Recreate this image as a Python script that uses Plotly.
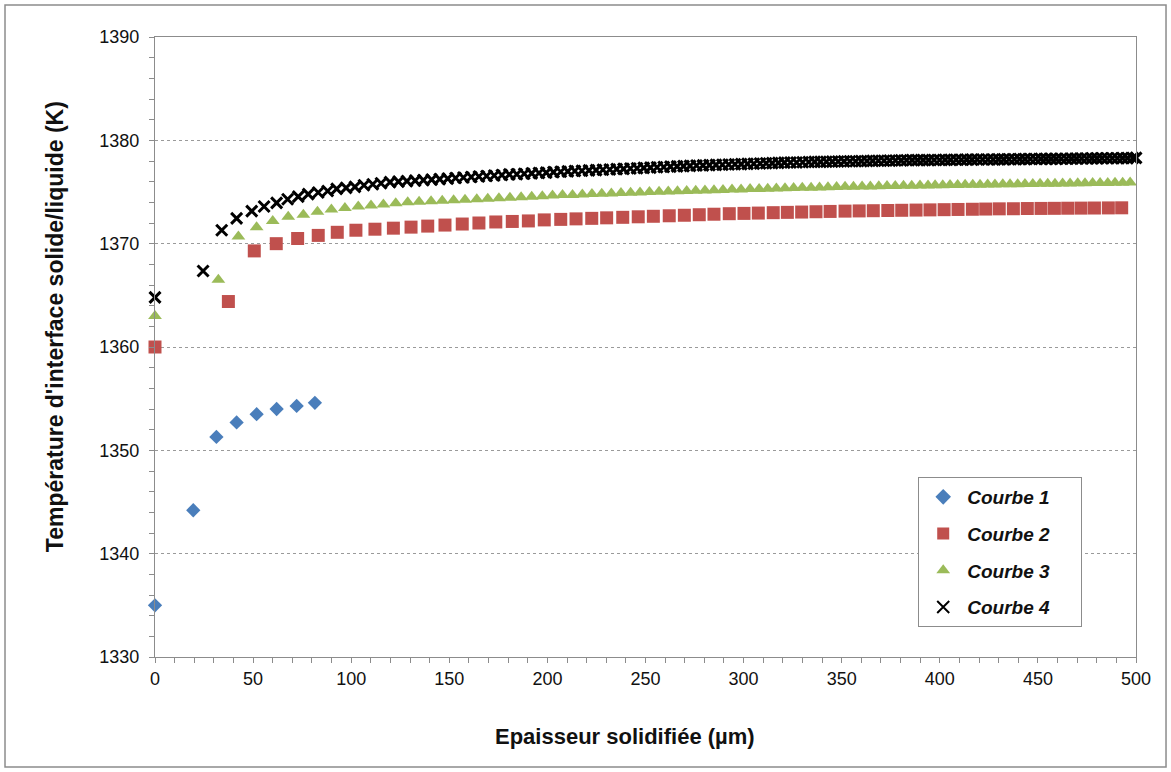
import plotly.graph_objects as go

# ---- data ----
c1_x = [0, 19.5, 31.3, 41.6, 51.8, 62.0, 72.2, 81.5]
c1_y = [1335.0, 1344.2, 1351.3, 1352.7, 1353.5, 1354.0, 1354.3, 1354.6]

c2_x = [0, 37.4, 50.6, 61.8, 72.7, 83.2, 92.9, 102.4, 112.1, 121.5,
        130.5, 139.0, 147.8, 156.6, 165.1, 173.7, 182.1, 190.3, 198.4, 206.8,
        214.6, 222.6, 230.2, 238.4, 246.3, 254.0, 262.1, 269.8, 277.4, 284.9,
        292.7, 300.2, 307.5, 315.1, 322.3, 329.6, 336.9, 344.1, 351.7, 358.9,
        366.1, 373.5, 380.6, 387.9, 395.0, 402.2, 409.3, 416.6, 423.4, 430.3,
        437.5, 444.6, 451.6, 458.4, 465.2, 472.0, 478.8, 485.9, 492.7]
c2_y = [1360.0, 1364.4, 1369.3, 1370.0, 1370.5, 1370.8, 1371.1, 1371.3, 1371.4, 1371.5,
        1371.6, 1371.7, 1371.8, 1371.9, 1372.0, 1372.1, 1372.15, 1372.2, 1372.3, 1372.35,
        1372.4, 1372.45, 1372.5, 1372.55, 1372.6, 1372.65, 1372.7, 1372.75, 1372.8, 1372.85,
        1372.9, 1372.93, 1372.96, 1373.0, 1373.03, 1373.06, 1373.09, 1373.12, 1373.15, 1373.17,
        1373.19, 1373.21, 1373.23, 1373.25, 1373.27, 1373.29, 1373.31, 1373.33, 1373.35, 1373.37,
        1373.38, 1373.4, 1373.41, 1373.42, 1373.43, 1373.44, 1373.45, 1373.46, 1373.47]

c3_x = [0, 32.3, 42.5, 51.8, 60.0, 67.9, 75.6, 82.8, 89.9, 96.8,
        103.6, 110.1, 116.4, 122.7, 128.8, 134.6, 140.7, 146.4, 152.2, 158.0,
        164.0, 169.6, 175.3, 180.9, 186.6, 192.0, 197.4, 202.6, 207.7, 212.8,
        217.8, 222.7, 227.7, 232.6, 237.5, 242.4, 247.2, 252.0, 256.9, 261.6,
        266.3, 271.0, 275.6, 280.3, 284.9, 289.5, 294.1, 298.7, 303.3, 307.9,
        312.3, 316.7, 321.1, 325.5, 329.9, 334.4, 338.7, 343.0, 347.4, 351.7,
        356.0, 360.4, 364.6, 368.9, 373.1, 377.3, 381.5, 385.7, 389.9, 394.0,
        397.6, 401.5, 405.2, 409.1, 412.9, 416.8, 420.5, 424.4, 428.1, 432.1,
        435.8, 439.7, 443.4, 447.4, 451.1, 455.0, 458.7, 462.6, 466.4, 470.3,
        474.0, 477.9, 481.7, 485.6, 489.3, 493.2, 497.0]
c3_y = [1363.0, 1366.5, 1370.7, 1371.6, 1372.2, 1372.6, 1372.8, 1373.1, 1373.3, 1373.45,
        1373.6, 1373.7, 1373.8, 1373.9, 1374.0, 1374.05, 1374.1, 1374.15, 1374.2, 1374.25,
        1374.3, 1374.35, 1374.4, 1374.45, 1374.5, 1374.55, 1374.6, 1374.65, 1374.7, 1374.72,
        1374.76, 1374.8, 1374.83, 1374.86, 1374.9, 1374.93, 1374.96, 1375.0, 1375.02, 1375.05,
        1375.08, 1375.1, 1375.13, 1375.15, 1375.18, 1375.2, 1375.23, 1375.25, 1375.28, 1375.3,
        1375.32, 1375.34, 1375.36, 1375.38, 1375.4, 1375.42, 1375.44, 1375.46, 1375.48, 1375.5,
        1375.51, 1375.53, 1375.54, 1375.56, 1375.57, 1375.59, 1375.6, 1375.61, 1375.63, 1375.64,
        1375.65, 1375.66, 1375.67, 1375.68, 1375.69, 1375.7, 1375.71, 1375.72, 1375.73, 1375.74,
        1375.75, 1375.76, 1375.77, 1375.78, 1375.79, 1375.8, 1375.81, 1375.82, 1375.83, 1375.84,
        1375.85, 1375.86, 1375.87, 1375.88, 1375.89, 1375.9, 1375.91]

c4_x = [0, 24.5, 34.0, 41.6, 49.3, 55.6, 62.0, 67.6, 73.0, 78.1,
        83.2, 88.0, 92.6, 97.4, 101.9, 106.5, 111.0, 115.2,
        119.8, 124.1, 128.4, 132.6, 136.8, 141.0, 145.1, 149.2, 153.2, 157.2,
        161.2, 165.1, 169.0, 172.9, 176.8, 180.6, 184.4, 188.2, 192.0, 195.7,
        199.4, 203.1, 206.8, 210.4, 214.0, 217.6, 221.2, 224.8, 228.3, 231.8,
        235.3, 238.8, 242.3, 245.7, 249.1, 252.5, 255.9, 259.3, 262.7, 266.1,
        269.4, 272.7, 276.0, 279.3, 282.6, 285.9, 289.2, 292.4, 295.6, 298.8,
        302.0, 305.2, 308.4, 311.5, 314.6, 317.7, 320.8, 323.9, 327.0, 330.1,
        333.2, 336.2, 339.2, 342.2, 345.2, 348.2, 351.2, 354.2, 357.1, 360.0,
        362.9, 365.8, 368.7, 371.6, 374.5, 377.4, 380.3, 383.1, 385.9, 388.7,
        391.5, 394.3, 397.1, 399.9, 402.7, 405.5, 408.3, 411.0, 413.7, 416.4,
        419.1, 421.8, 424.5, 427.2, 429.9, 432.6, 435.3, 438.0, 440.7, 443.4,
        446.1, 448.8, 451.5, 454.1, 456.7, 459.3, 461.9, 464.5, 467.1, 469.7,
        472.3, 474.9, 477.5, 480.1, 482.7, 485.3, 487.9, 490.5, 493.1, 495.7,
        498.3, 500.0]
c4_y = [1364.8, 1367.35, 1371.3, 1372.45, 1373.15, 1373.6, 1373.95, 1374.3, 1374.55, 1374.8,
        1374.95, 1375.1, 1375.3, 1375.4, 1375.5, 1375.65, 1375.75, 1375.85,
        1375.95, 1376.0, 1376.05, 1376.1, 1376.15, 1376.2, 1376.25, 1376.3, 1376.35, 1376.4,
        1376.45, 1376.5, 1376.55, 1376.6, 1376.65, 1376.7, 1376.72, 1376.76, 1376.8, 1376.84,
        1376.88, 1376.92, 1376.96, 1377.0, 1377.03, 1377.06, 1377.09, 1377.12, 1377.15, 1377.18,
        1377.21, 1377.24, 1377.27, 1377.3, 1377.33, 1377.36, 1377.39, 1377.42, 1377.45, 1377.48,
        1377.5, 1377.53, 1377.56, 1377.58, 1377.6, 1377.62, 1377.64, 1377.66, 1377.68, 1377.7,
        1377.72, 1377.74, 1377.76, 1377.78, 1377.8, 1377.82, 1377.84, 1377.85, 1377.86, 1377.88,
        1377.9, 1377.91, 1377.92, 1377.93, 1377.94, 1377.95, 1377.96, 1377.97, 1377.98, 1377.99,
        1378.0, 1378.01, 1378.02, 1378.03, 1378.04, 1378.05, 1378.06, 1378.07, 1378.08, 1378.08,
        1378.09, 1378.09, 1378.1, 1378.1, 1378.11, 1378.11, 1378.12, 1378.12, 1378.13, 1378.13,
        1378.14, 1378.14, 1378.15, 1378.15, 1378.16, 1378.16, 1378.17, 1378.17, 1378.18, 1378.18,
        1378.19, 1378.19, 1378.2, 1378.2, 1378.21, 1378.21, 1378.22, 1378.22, 1378.23, 1378.23,
        1378.24, 1378.24, 1378.25, 1378.25, 1378.26, 1378.26, 1378.27, 1378.27, 1378.28, 1378.28,
        1378.29, 1378.3]

series_names = ["Courbe 1", "Courbe 2", "Courbe 3", "Courbe 4"]
x_title = "Epaisseur solidifiée (µm)"
y_title = "Température d'interface solide/liquide (K)"

FONT = "Liberation Sans, Arial, sans-serif"
AXIS_GRAY = "#8c8c8c"
TXT = "#111111"
PAD = "&nbsp;" * 5


def legend_label(s):
    return "<b><i>" + s + "</i></b>" + PAD


fig = go.Figure()
fig.add_trace(go.Scatter(
    x=c1_x, y=c1_y, mode="markers", name=legend_label(series_names[0]),
    legendgroup="g1", cliponaxis=False,
    marker=dict(symbol="diamond", size=11, color="#4a7ebb", line=dict(width=0))))
fig.add_trace(go.Scatter(
    x=c2_x, y=c2_y, mode="markers", name=legend_label(series_names[1]),
    legendgroup="g2", cliponaxis=False,
    marker=dict(symbol="square", size=13, color="#c0504d", line=dict(width=0))))
fig.add_trace(go.Scatter(
    x=c3_x, y=c3_y, mode="markers", name=legend_label(series_names[2]),
    legendgroup="g3", cliponaxis=False,
    marker=dict(symbol="triangle-up", size=12, color="#9bbb59", line=dict(width=0))))
fig.add_trace(go.Scatter(
    x=c4_x, y=c4_y, mode="markers", name=legend_label(series_names[3]),
    legendgroup="g4", cliponaxis=False,
    marker=dict(symbol="x-thin", size=11, color="black", line=dict(width=3, color="black"))))

fig.update_layout(
    width=1171, height=772,
    paper_bgcolor="white", plot_bgcolor="white",
    margin=dict(l=155, r=35, t=37, b=115),
    font=dict(family=FONT, color=TXT),
    showlegend=True,
    legend=dict(
        x=0.778, y=0.2903, xanchor="left", yanchor="top",
        bgcolor="white", bordercolor=AXIS_GRAY, borderwidth=1,
        font=dict(family=FONT, size=19, color=TXT),
        tracegroupgap=9, itemsizing="constant", itemwidth=38,
    ),
    xaxis=dict(
        range=[0, 500], dtick=50, tick0=0,
        showgrid=False, zeroline=False,
        showline=True, linecolor=AXIS_GRAY, linewidth=1.3, mirror=True,
        ticks="outside", ticklen=5, tickcolor=AXIS_GRAY, tickwidth=1,
        minor=dict(dtick=10, ticks="outside", ticklen=5, tickcolor=AXIS_GRAY, tickwidth=1),
        tickfont=dict(family=FONT, size=18, color=TXT),
    ),
    yaxis=dict(
        range=[1330, 1390], dtick=10, tick0=1330,
        showgrid=True, gridcolor="#9a9a9a", griddash="dot", gridwidth=1,
        zeroline=False,
        showline=True, linecolor=AXIS_GRAY, linewidth=1.3, mirror=True,
        ticks="outside", ticklen=5, tickcolor=AXIS_GRAY, tickwidth=1,
        minor=dict(dtick=2, ticks="outside", ticklen=5, tickcolor=AXIS_GRAY, tickwidth=1, showgrid=False),
        tickfont=dict(family=FONT, size=18, color=TXT),
        ticklabelstandoff=6,
    ),
    annotations=[
        dict(text="<b>" + x_title + "</b>", xref="paper", yref="paper",
             x=0.479, y=-0.129, xanchor="center", yanchor="middle", showarrow=False,
             font=dict(family=FONT, size=22, color=TXT)),
        dict(text="<b>" + y_title + "</b>", xref="paper", yref="paper",
             x=-0.1019, y=0.532, xanchor="center", yanchor="middle", showarrow=False,
             textangle=-90, font=dict(family=FONT, size=23, color=TXT)),
    ],
    shapes=[dict(type="rect", xref="paper", yref="paper",
                 x0=-0.1529, x1=1.0306, y0=-0.1774, y1=1.0516,
                 line=dict(color="#8c8c8c", width=1.5), fillcolor="rgba(0,0,0,0)", layer="below")],
)

fig.write_html("out.html", config={"displayModeBar": False},
               post_script="document.body.style.margin='0';document.body.style.overflow='hidden';")
